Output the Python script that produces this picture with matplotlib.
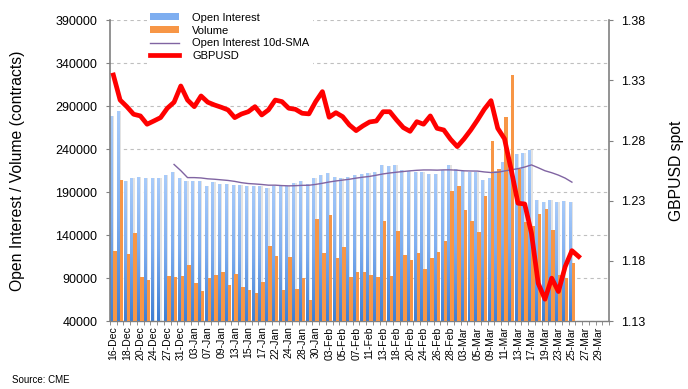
import numpy as np
import matplotlib
matplotlib.use('Agg')
import matplotlib.pyplot as plt
from matplotlib.patches import Patch
from matplotlib.lines import Line2D
from matplotlib.colors import LinearSegmentedColormap

plt.rcParams['font.family'] = ['Liberation Sans', 'DejaVu Sans']

dates = ['16-Dec', '17-Dec', '18-Dec', '19-Dec', '20-Dec', '23-Dec', '24-Dec', '26-Dec', '27-Dec', '30-Dec', '31-Dec',
         '02-Jan', '03-Jan', '06-Jan', '07-Jan', '08-Jan', '09-Jan', '10-Jan', '13-Jan', '14-Jan', '15-Jan', '16-Jan',
         '17-Jan', '21-Jan', '22-Jan', '23-Jan', '24-Jan', '27-Jan', '28-Jan', '29-Jan', '30-Jan', '31-Jan',
         '03-Feb', '04-Feb', '05-Feb', '06-Feb', '07-Feb', '10-Feb', '11-Feb', '12-Feb', '13-Feb', '14-Feb',
         '18-Feb', '19-Feb', '20-Feb', '21-Feb', '24-Feb', '25-Feb', '26-Feb', '27-Feb', '28-Feb',
         '02-Mar', '03-Mar', '04-Mar', '05-Mar', '06-Mar', '09-Mar', '10-Mar', '11-Mar', '12-Mar', '13-Mar',
         '16-Mar', '17-Mar', '18-Mar', '19-Mar', '20-Mar', '23-Mar', '24-Mar', '25-Mar', '26-Mar', '27-Mar',
         '28-Mar', '29-Mar', '30-Mar']

open_interest = [278600, 284400, 202950, 206400, 207600, 206400, 206400, 206400, 209900, 213400,
                 206400, 202950, 202950, 202950, 197100, 201800, 199450, 199450, 198300, 198300,
                 197100, 197100, 197100, 194800, 197100, 197100, 197100, 200600, 202950, 199450,
                 206400, 209900, 212250, 207600, 206400, 207600, 209900, 211100, 212250, 213400,
                 221600, 220400, 221600, 215750, 214600, 213400, 213400, 211100, 211100, 215750,
                 221600, 216900, 214600, 213400, 213400, 204100, 206400, 215000, 225000, 230000,
                 234400, 235500, 239400, 180800, 178500, 180800, 178500, 179700, 178500]

volume = [121500, 204100, 118000, 142400, 90800, 87700, None, None, 92400, 91200,
          92400, 105200, 84200, 75300, 90000, 93500, 97000, 81900, 94700, 79560,
          76050, 72600, 85400, 127300, 115600, 76050, 114500, 77200, 90000, 64400,
          158700, 119100, 163400, 113300, 126100, 91200, 97000, 97000, 93500, 91200,
          156400, 92400, 144750, 116800, 111000, 119100, 100500, 113300, 120300, 133100,
          191300, 197100, 169200, 156400, 143600, 185500, 249500, 216900, 277400, 326300,
          216900, 155200, 150000, 164500, 170350, 145900, 93500, 90000, 107500]

oi_sma10 = [None] * 9 + [
    222200, 215000, 206900, 206900, 206500, 205500, 205000, 204300, 203600, 202500,
    201000, 200000, 199500, 198900, 198100, 198100, 197600, 197300, 197500, 197900,
    198000, 199000, 200300, 201800, 203000, 204000, 205000, 206300, 207400, 208300,
    209700, 211200, 212300, 213200, 214000, 214800, 215400, 215800, 215800, 215600,
    215900, 215900, 215500, 214800, 214600, 214500, 213500, 212800, 213200, 214600,
    216000, 217300, 219200, 221700, 218400, 214900, 212600, 209800, 206300, 201600]

gbpusd = [1.3345, 1.3137, 1.3082, 1.3019, 1.3005, 1.2936, 1.2963, 1.2991, 1.3069, 1.3119,
          1.3254, 1.3137, 1.3082, 1.3171, 1.3119, 1.3096, 1.3077, 1.3055, 1.2991, 1.3021,
          1.3040, 1.3082, 1.3013, 1.3055, 1.3137, 1.3124, 1.3069, 1.3060, 1.3027, 1.3022,
          1.3124, 1.3207, 1.2994, 1.3032, 1.2999, 1.2930, 1.2883, 1.2922, 1.2955, 1.2963,
          1.3040, 1.3040, 1.2971, 1.2908, 1.2877, 1.2957, 1.2936, 1.3005, 1.2902, 1.2888,
          1.2811, 1.2750, 1.2814, 1.2888, 1.2971, 1.3060, 1.3132, 1.2902, 1.2815, 1.2556,
          1.2279, 1.2273, 1.2030, 1.1614, 1.1481, 1.1656, 1.1545, 1.1752, 1.1885, 1.1836]

left_ticks = [40000, 90000, 140000, 190000, 240000, 290000, 340000, 390000]
right_ticks = [1.13, 1.18, 1.23, 1.28, 1.33, 1.38]

W, H = 688, 389
fig = plt.figure(figsize=(W / 100, H / 100), dpi=100)
ax = fig.add_axes([110 / W, 1 - 321 / H, (609 - 110) / W, (321 - 20.3) / H])

ymin, ymax = 40000, 390000
oi = np.array(open_interest, dtype=float)
vol = np.array([np.nan if v is None else v for v in volume], dtype=float)
sma = np.array([np.nan if v is None else v for v in oi_sma10], dtype=float)
xi = np.arange(len(oi))

# shadow behind open interest bars
ax.bar(xi - 0.05, oi - ymin, bottom=ymin, width=0.42, color='#e3e3e3', zorder=1, linewidth=0)

blue = ax.bar(xi - 0.27, oi - ymin, bottom=ymin, width=0.42, color='none', zorder=2, linewidth=0)
cmap = LinearSegmentedColormap.from_list('oi', ['#3f7fd4', '#7eaef0', '#a8cbfa'])
grad = np.linspace(0, 1, 64).reshape(-1, 1)
for b in blue:
    x0, w, y0, h = b.get_x(), b.get_width(), b.get_y(), b.get_height()
    im = ax.imshow(grad, extent=[x0, x0 + w, y0, y0 + h], origin='lower', aspect='auto',
                   cmap=cmap, zorder=2, interpolation='bilinear')
    im.set_clip_path(b)

mask = ~np.isnan(vol)
ax.bar(xi[mask] + 0.22, vol[mask] - ymin, bottom=ymin, width=0.52, color='#f79646', zorder=3, linewidth=0)

ax.plot(xi, sma, color='#8064a2', lw=1.0, zorder=4)

ax.set_xlim(-0.5, len(dates) - 0.5)
ax.set_ylim(ymin, ymax)
ax.set_yticks(left_ticks)
ax.set_yticklabels([str(t) for t in left_ticks])
ax.set_xticks(np.arange(0, len(dates), 2))
ax.set_xticklabels(dates[::2], rotation=90, fontsize=7.5)
ax.set_xticks(np.arange(-0.5, len(dates), 1), minor=True)
ax.tick_params(axis='x', which='major', length=0, pad=4)
ax.tick_params(axis='x', which='minor', length=3, color='#808080', direction='out')
ax.tick_params(axis='y', length=3, color='#808080', labelsize=9, pad=6)
ax.set_axisbelow(True)
ax.yaxis.grid(True, linestyle=(0, (3, 3)), color='#bfbfbf', lw=0.8, zorder=0)
for s in ['top', 'right']:
    ax.spines[s].set_visible(False)
ax.spines['left'].set_color('#808080')
ax.spines['left'].set_linewidth(1.2)
ax.spines['bottom'].set_color('#808080')
ax.spines['bottom'].set_linewidth(1.0)
ax.set_ylabel('Open Interest / Volume (contracts)', fontsize=11.3)
ax.yaxis.set_label_coords((25 - 110) / 499, 0.5)

ax2 = ax.twinx()
ax2.plot(np.arange(len(gbpusd)), gbpusd, color='#ff0000', lw=3.4, zorder=5)
ax2.set_ylim(1.13, 1.38)
ax2.set_yticks(right_ticks)
ax2.set_yticklabels(['%.2f' % t for t in right_ticks])
ax2.tick_params(axis='y', length=3, color='#808080', labelsize=9, pad=6)
for s in ['top', 'left', 'bottom']:
    ax2.spines[s].set_visible(False)
ax2.spines['right'].set_color('#808080')
ax2.spines['right'].set_linewidth(1.2)
ax2.set_ylabel('GBPUSD spot', fontsize=11.3)
ax2.yaxis.set_label_coords((669 - 110) / 499, 0.5)

handles = [Patch(facecolor='#7eaef0', edgecolor='none'),
           Patch(facecolor='#f79646', edgecolor='none'),
           Line2D([], [], color='#8064a2', lw=1.0),
           Line2D([], [], color='#ff0000', lw=3.4)]
labels = ['Open Interest', 'Volume', 'Open Interest 10d-SMA', 'GBPUSD']
leg = ax2.legend(handles, labels, loc='upper left', bbox_to_anchor=(141 / W, 1 - 4 / H),
                 bbox_transform=fig.transFigure, fontsize=8, frameon=True, facecolor='white',
                 edgecolor='none', framealpha=1, fancybox=False, handlelength=2.6,
                 handleheight=0.6, labelspacing=0.25, borderpad=0.3, handletextpad=1.2)

fig.text(12 / W, 1 - 380 / H, 'Source: CME', fontsize=7, va='center', ha='left')

fig.savefig('out.png', dpi=100)
